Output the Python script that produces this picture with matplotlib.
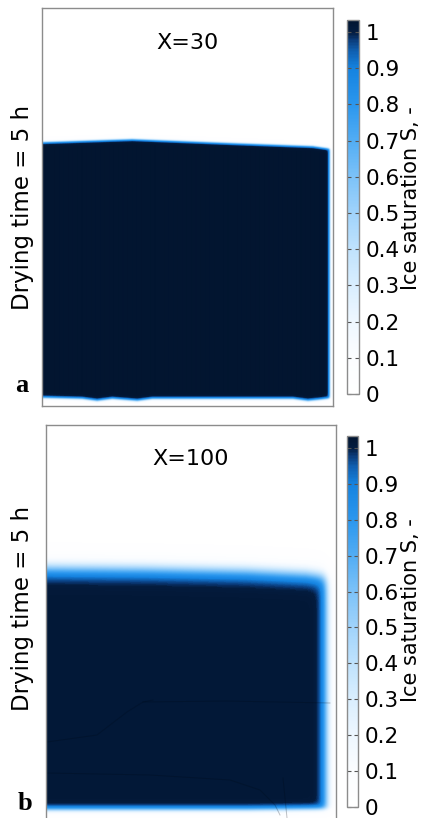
import numpy as np
import matplotlib as mpl

mpl.use('agg')
import matplotlib.pyplot as plt
from matplotlib.colors import LinearSegmentedColormap

plt.rcParams['font.family'] = ['DejaVu Sans']

# colour scale
cbar_ticks = [0, 0.1, 0.2, 0.3, 0.4, 0.5, 0.6, 0.7, 0.8, 0.9, 1.0]
cbar_labels = ['0', '0.1', '0.2', '0.3', '0.4', '0.5', '0.6', '0.7', '0.8', '0.9', '1']
s_max = 1.033
cmap_levels = [0.0, 0.1, 0.2, 0.3, 0.4, 0.5, 0.6, 0.7, 0.8, 0.9, 0.95, 0.98, 1.0, 1.033]
cmap_colors = ['#ffffff', '#fbfdff', '#eef7ff', '#d9eefe', '#bfe2fd', '#a0d3fb', '#7cc2f8',
               '#52adf4', '#2b97ee', '#1583e0', '#0f5fb0', '#0a3a78', '#041d40', '#021530']

# panel a (X=30): ice front positions, in pixels from the top-left of the domain
a_size = (291, 398)
a_top_x = [0, 90, 190, 270, 291]
a_top_y = [134, 131, 135, 138, 141]
a_bot_x = [0, 40, 55, 70, 95, 110, 200, 250, 265, 275, 291]
a_bot_y = [390, 391, 393, 391, 393, 391, 391, 391, 393, 392, 390]
a_right = 287
a_widths = (1.6, 1.6, 1.8)
a_core = 1.03

# panel b (X=100)
b_size = (290, 395)
b_top_x = [0, 100, 200, 260, 290]
b_top_y = [142, 143, 145, 148, 152]
b_bot_x = [0, 100, 200, 290]
b_bot_y = [385, 385, 385, 384]
b_right = 281
b_widths = (9.0, 5.5, 3.5)
b_core = 1.015

# darker streaks inside the frozen zone of panel b
streak1_x = [1, 51, 64, 81, 97, 107]
streak1_y = [317, 310, 300, 287, 277, 275]
streak2_x = [1, 104, 184, 214, 229, 234]
streak2_y = [348, 350, 355, 365, 380, 390]
streak3_x = [237, 239, 241]
streak3_y = [353, 373, 393]
streak4_x = [97, 180, 284]
streak4_y = [277, 276, 278]

cmap = LinearSegmentedColormap.from_list(
  'ice', [(v / s_max, c) for v, c in zip(cmap_levels, cmap_colors)])


def step(d, w):
  return 0.5 * (1 + np.tanh(d / w))


def ice_field(size, top_x, top_y, bot_x, bot_y, right, widths, core):
  w, h = size
  xx, yy = np.meshgrid(np.arange(w) + 0.5, np.arange(h) + 0.5)
  top = np.interp(xx, top_x, top_y)
  bot = np.interp(xx, bot_x, bot_y)
  wt, wr, wb = widths
  return core * step(yy - top, wt) * step(right - xx, wr) * step(bot - yy, wb)


def draw_panel(fig, ax_box, cax_box, field, size, title, title_y, letter, letter_xy,
               ylabel_xy, cbar_label_xy):
  ax = fig.add_axes(ax_box)
  w, h = size
  im = ax.imshow(field, cmap=cmap, vmin=0, vmax=s_max, extent=(0, w, h, 0),
                 interpolation='bilinear', aspect='auto')
  ax.set_xlim(0, w)
  ax.set_ylim(h, 0)
  ax.set_xticks([])
  ax.set_yticks([])
  for sp in ax.spines.values():
    sp.set_color('#8c8c8c')
    sp.set_linewidth(1.0)
  ax.text(0.5, title_y, title, transform=ax.transAxes, ha='center', va='center', fontsize=16)

  cax = fig.add_axes(cax_box)
  cb = fig.colorbar(im, cax=cax, ticks=cbar_ticks)
  cb.ax.set_yticklabels(cbar_labels)
  cb.ax.tick_params(labelsize=15.5, direction='in', length=3, color='#555555', pad=5, left=True)
  cb.outline.set_edgecolor('#8c8c8c')
  cb.outline.set_linewidth(1.0)

  fig.text(ylabel_xy[0] / 424, 1 - ylabel_xy[1] / 818, 'Drying time = 5 h', rotation=90,
           ha='center', va='center', fontsize=16.5)
  fig.text(cbar_label_xy[0] / 424, 1 - cbar_label_xy[1] / 818, 'Ice saturation S, -',
           rotation=90, ha='center', va='center', fontsize=15)
  fig.text(letter_xy[0] / 424, 1 - letter_xy[1] / 818, letter, ha='center', va='center',
           fontsize=19, fontweight='bold', family='Liberation Serif')
  return ax


fig = plt.figure(figsize=(4.24, 8.18), dpi=100)

field_a = ice_field(a_size, a_top_x, a_top_y, a_bot_x, a_bot_y, a_right, a_widths, a_core)
draw_panel(fig, [42 / 424, 1 - 406 / 818, 291 / 424, 398 / 818],
           [347 / 424, 1 - 394 / 818, 12 / 424, 374 / 818],
           field_a, a_size, 'X=30', 0.912, 'a', (22, 386), (23, 207), (411, 198))

field_b = ice_field(b_size, b_top_x, b_top_y, b_bot_x, b_bot_y, b_right, b_widths, b_core)
ax_b = draw_panel(fig, [46 / 424, 1 - 820 / 818, 290 / 424, 395 / 818],
                  [347 / 424, 1 - 807 / 818, 11 / 424, 371 / 818],
                  field_b, b_size, 'X=100', 0.915, 'b', (25, 804), (23, 608), (411, 610))
for sx, sy in [(streak1_x, streak1_y), (streak2_x, streak2_y), (streak3_x, streak3_y),
               (streak4_x, streak4_y)]:
  ax_b.plot(sx, sy, color='#000814', lw=0.7, alpha=0.25)

fig.savefig('out.png', dpi=100)
